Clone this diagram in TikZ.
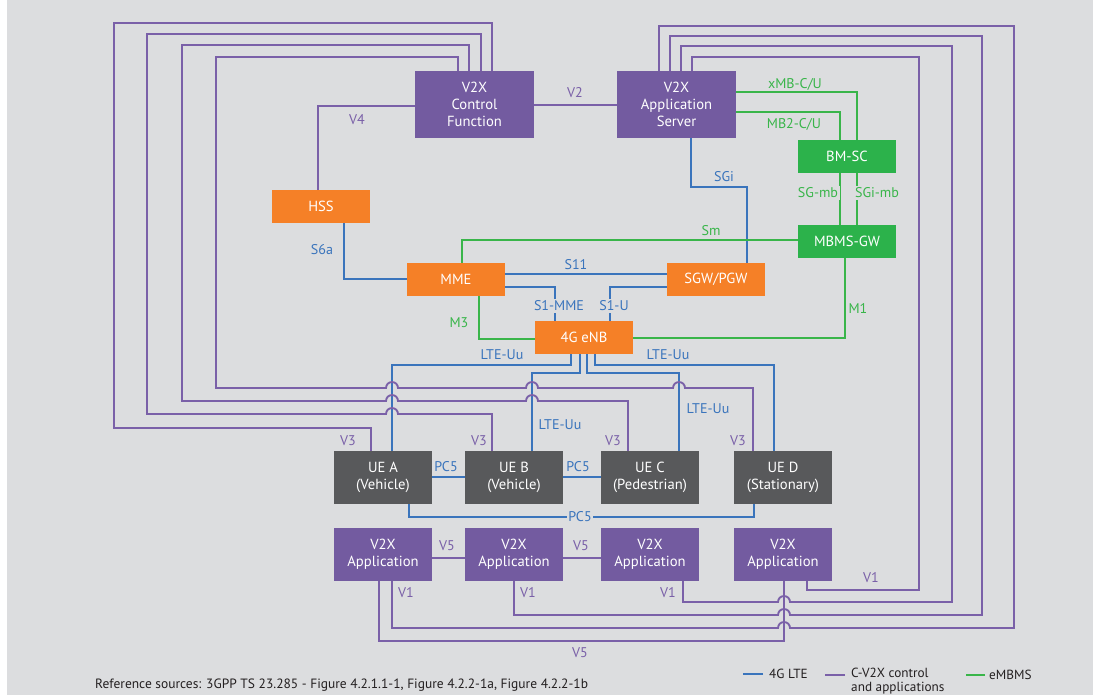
\documentclass[tikz,border=0pt]{standalone}
\usepackage{fontspec}
\setmainfont{PT Sans}
\usetikzlibrary{calc}

\definecolor{bg}{RGB}{220,221,223}
\definecolor{vpurple}{RGB}{115,91,160}
\definecolor{lpurple}{RGB}{122,96,168}
\definecolor{vorange}{RGB}{245,128,39}
\definecolor{vgreen}{RGB}{44,178,75}
\definecolor{lgreen}{RGB}{57,181,74}
\definecolor{lblue}{RGB}{58,116,188}
\definecolor{uegrey}{RGB}{88,89,91}
\definecolor{ink}{RGB}{35,31,32}

\tikzset{
  box/.style={inner sep=0pt, text=white, align=center,
    font=\fontsize{12.5}{14.5}\selectfont},
  small/.style={box, minimum width=2.94cm, minimum height=0.99cm},
  tall/.style={box, minimum width=2.94cm, minimum height=1.59cm},
  big/.style={box, minimum width=3.57cm, minimum height=2.01cm},
  purplebox/.style={fill=vpurple},
  orangebox/.style={fill=vorange},
  greenbox/.style={fill=vgreen},
  uebox/.style={fill=uegrey},
  purp/.style={draw=lpurple, line width=1.6pt},
  lte/.style={draw=lblue, line width=1.6pt},
  emb/.style={draw=lgreen, line width=1.6pt},
  lab/.style={inner sep=1.5pt, font=\fontsize{12}{14}\selectfont},
  plab/.style={lab, text=lpurple},
  blab/.style={lab, text=lblue},
  glab/.style={lab, text=lgreen},
  masked/.style={fill=bg},
  hopright/.style={start angle=180, end angle=0, radius=0.18cm},
  hopleft/.style={start angle=0, end angle=180, radius=0.18cm},
  legend/.style={inner sep=0pt, text=ink, align=left,
    font=\fontsize{11.3}{11.6}\selectfont},
}

\begin{document}
\begin{tikzpicture}[x=0.03cm, y=-0.03cm]
  % canvas
  \useasboundingbox (0,0) rectangle (1093,695);
  \fill[white] (0,0) rectangle (1093,695);
  \fill[bg] (7,0) rectangle (1093,695);

  % core network
  \node[big, purplebox] (VCF) at (474.5,104.5) {V2X\\Control\\Function};
  \node[big, purplebox] (VAS) at (676.5,104.5) {V2X\\Application\\Server};
  \node[small, greenbox] (BMSC) at (847,156.5) {BM-SC};
  \node[small, greenbox] (MBMS) at (847,241.5) {MBMS-GW};
  \node[small, orangebox] (HSS) at (321,206.5) {HSS};
  \node[small, orangebox] (MME) at (456,279.5) {MME};
  \node[small, orangebox] (SGW) at (716,279.5) {SGW/PGW};
  \node[small, orangebox] (ENB) at (584,337.5) {4G eNB};

  % user equipment
  \node[tall, uebox] (UEA) at (383,477.5) {UE A\\(Vehicle)};
  \node[tall, uebox] (UEB) at (514,477.5) {UE B\\(Vehicle)};
  \node[tall, uebox] (UEC) at (650,477.5) {UE C\\(Pedestrian)};
  \node[tall, uebox] (UED) at (783,477.5) {UE D\\(Stationary)};

  % applications
  \node[tall, purplebox] (APA) at (383,554.5) {V2X\\Application};
  \node[tall, purplebox] (APB) at (514,554.5) {V2X\\Application};
  \node[tall, purplebox] (APC) at (650,554.5) {V2X\\Application};
  \node[tall, purplebox] (APD) at (783,554.5) {V2X\\Application};

  % V2 / V4
  \draw[purp] (VCF.east |- 0,105) -- (VAS.west |- 0,105);
  \draw[purp] (HSS.north -| 318,0) |- (VCF.west |- 0,106);

  % LTE core links
  \draw[lte] (HSS.south -| 344,0) |- (MME.west |- 0,279);
  \draw[lte] (MME.east |- 0,274) -- (SGW.west |- 0,274);
  \draw[lte] (MME.east |- 0,287) -| (ENB.north -| 555,0);
  \draw[lte] (SGW.west |- 0,287) -| (ENB.north -| 610,0);
  \draw[lte] (VAS.south -| 691,0) |- (747,187) -- (SGW.north -| 747,0);

  % eMBMS links
  \draw[emb] (VAS.east |- 0,92) -| (BMSC.north -| 857,0);
  \draw[emb] (VAS.east |- 0,112) -| (BMSC.north -| 840,0);
  \draw[emb] (BMSC.south -| 840,0) -- (MBMS.north -| 840,0);
  \draw[emb] (BMSC.south -| 857,0) -- (MBMS.north -| 857,0);
  \draw[emb] (MME.north -| 462,0) |- (MBMS.west |- 0,240);
  \draw[emb] (MME.south -| 479,0) |- (ENB.west |- 0,339);
  \draw[emb] (MBMS.south -| 845,0) |- (ENB.east |- 0,338);

  % LTE-Uu radio links
  \draw[lte] (ENB.south -| 571,0) |- (392,365) -- (UEA.north -| 392,0);
  \draw[lte] (ENB.south -| 580,0) |- (532,373) -- (UEB.north -| 532,0);
  \draw[lte] (ENB.south -| 587,0) |- (679,373) -- (UEC.north -| 679,0);
  \draw[lte] (ENB.south -| 595,0) |- (774,365) -- (UED.north -| 774,0);

  % PC5 sidelinks
  \draw[lte] (UEA.east |- 0,477) -- (UEB.west |- 0,477);
  \draw[lte] (UEB.east |- 0,477) -- (UEC.west |- 0,477);
  \draw[lte] (UEA.south -| 409,0) |- (754,517) -- (UED.south -| 754,0);

  % V3 loops from the control function
  \draw[purp] (VCF.north -| 492,0) |- (114,23) |- (371,428) -- (UEA.north -| 371,0);
  \draw[purp] (VCF.north -| 481,0) |- (147,34) |- (386,414) arc[hopright]
    -- (492,414) -- (UEB.north -| 492,0);
  \draw[purp] (VCF.north -| 469,0) |- (182,45) |- (386,401) arc[hopright]
    -- (526,401) arc[hopright] -- (628,401) -- (UEC.north -| 628,0);
  \draw[purp] (VCF.north -| 458,0) |- (216,57) |- (386,388) arc[hopright]
    -- (526,388) arc[hopright] -- (673,388) arc[hopright]
    -- (753,388) -- (UED.north -| 753,0);

  % V5 between applications
  \draw[purp] (APA.east |- 0,558) -- (APB.west |- 0,558);
  \draw[purp] (APB.east |- 0,558) -- (APC.west |- 0,558);
  \draw[purp] (APA.south -| 379,0) |- (784,641) -- (APD.south -| 784,0);

  % V1 loops from the application server
  \draw[purp] (VAS.north -| 692,0) |- (919,57) |- (807,590) -- (APD.south -| 807,0);
  \draw[purp] (VAS.north -| 681,0) |- (952,46) |- (790,602) arc[hopleft]
    -- (683,602) -- (APC.south -| 683,0);
  \draw[purp] (VAS.north -| 670,0) |- (982,36) |- (790,615) arc[hopleft]
    -- (514,615) -- (APB.south -| 514,0);
  \draw[purp] (VAS.north -| 659,0) |- (1014,26) |- (790,628) arc[hopleft]
    -- (392,628) -- (APA.south -| 392,0);

  % interface labels
  \node[plab] (lV4) at (357,120) {V4};
  \node[plab] (lV2) at (575,93) {V2};
  \node[glab] (lxMB) at (795,84) {xMB-C/U};
  \node[glab] (lMB2) at (794,124) {MB2-C/U};
  \node[blab] (lSGi) at (724,177) {SGi};
  \node[glab, masked] (lSGmb) at (818,193) {SG-mb};
  \node[glab, masked] (lSGimb) at (877,193) {SGi-mb};
  \node[glab] (lSm) at (711,231) {Sm};
  \node[blab] (lS6a) at (322,250) {S6a};
  \node[blab] (lS11) at (576,265) {S11};
  \node[blab, masked] (lS1M) at (559,306) {S1-MME};
  \node[blab, masked] (lS1U) at (614,306) {S1-U};
  \node[glab] (lM3) at (459,323) {M3};
  \node[glab] (lM1) at (858,308) {M1};
  \node[blab] (lUuA) at (502,355) {LTE-Uu};
  \node[blab] (lUuD) at (668,355) {LTE-Uu};
  \node[blab] (lUuB) at (560,425) {LTE-Uu};
  \node[blab] (lUuC) at (708,409) {LTE-Uu};
  \node[plab] (lV3A) at (348,441) {V3};
  \node[plab] (lV3B) at (479,441) {V3};
  \node[plab] (lV3C) at (613,441) {V3};
  \node[plab] (lV3D) at (738,441) {V3};
  \node[blab] (lPC5a) at (446,467) {PC5};
  \node[blab] (lPC5b) at (578,467) {PC5};
  \node[blab, masked] (lPC5c) at (580,517) {PC5};
  \node[plab] (lV5a) at (447,546) {V5};
  \node[plab] (lV5b) at (581,546) {V5};
  \node[plab] (lV5c) at (580,653) {V5};
  \node[plab] (lV1a) at (406,593) {V1};
  \node[plab] (lV1b) at (528,593) {V1};
  \node[plab] (lV1c) at (668,593) {V1};
  \node[plab] (lV1d) at (871,578) {V1};

  % footer and legend
  \node[legend, anchor=west, font=\fontsize{11.5}{12}\selectfont] (src) at (95,685)
    {Reference sources: 3GPP TS 23.285 - Figure 4.2.1.1-1, Figure 4.2.2-1a, Figure 4.2.2-1b};
  \node[legend, anchor=west] (kLTE) at (769,674) {4G LTE};
  \node[legend, anchor=north west] (kV2X) at (851,668) {C-V2X control\\and applications};
  \node[legend, anchor=west] (kEMB) at (989,675) {eMBMS};
  \draw[lte] ([xshift=-0.18cm]kLTE.west) -- ++(-20,0);
  \draw[purp] ([xshift=-0.18cm]kV2X.north west) ++(0,7) -- ++(-20,0);
  \draw[emb] ([xshift=-0.12cm]kEMB.west) -- ++(-19,0);
\end{tikzpicture}
\end{document}
